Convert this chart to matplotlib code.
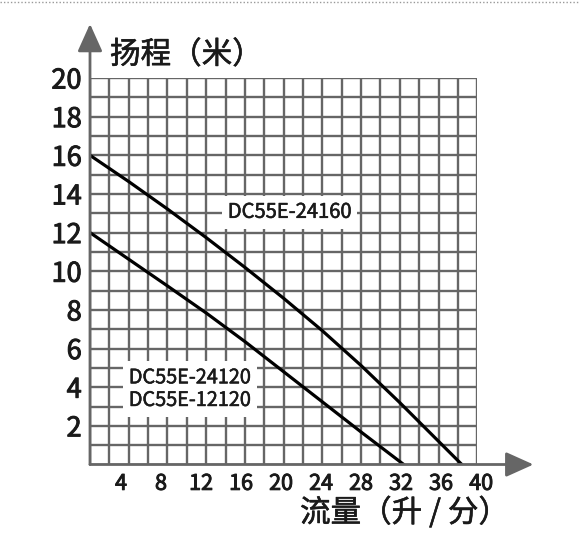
import matplotlib
matplotlib.use("Agg")
import matplotlib.pyplot as plt
from matplotlib.lines import Line2D
import matplotlib.transforms as mtransforms
import matplotlib.patheffects as pe
import numpy as np

plt.rcParams['font.family'] = ['Noto Sans CJK SC', 'DejaVu Sans']

# data
x_upper = [0, 4, 8, 12, 16, 20, 24, 28, 32, 36, 38.4]
y_upper = [16, 14.64, 13.22, 11.74, 10.2, 8.6, 6.92, 5.12, 3.2, 1.2, 0]
x_lower = [0, 4, 8, 12, 16, 20, 24, 28, 32.4]
y_lower = [12, 10.62, 9.24, 7.84, 6.36, 4.8, 3.24, 1.68, 0]
label_upper = "DC55E-24160"
label_lower = "DC55E-24120\nDC55E-12120"
x_ticks = [4, 8, 12, 16, 20, 24, 28, 32, 36, 40]
y_ticks = [2, 4, 6, 8, 10, 12, 14, 16, 18, 20]
x_title = "流量（升 / 分）"
y_title = "扬程（米）"

W, H = 579, 544
fig = plt.figure(figsize=(W / 100, H / 100), dpi=100)
ax = fig.add_axes([90 / W, 79.5 / H, 387.3 / W, 386.5 / H])
ax.set_xlim(0, 40)
ax.set_ylim(0, 20)

txt_c = '#1a1a1a'
heavy = [pe.withStroke(linewidth=0.7, foreground=txt_c)]
grid_c = '#666666'
ax.set_xticks(x_ticks)
ax.set_xticklabels([str(v) for v in x_ticks], fontsize=15.5, color=txt_c)
ax.set_yticks(y_ticks)
ax.set_yticklabels([str(v) for v in y_ticks], fontsize=19.5, color=txt_c)
for lab in ax.get_xticklabels() + ax.get_yticklabels():
    lab.set_path_effects(heavy)
ax.set_xticks(np.arange(0, 41, 2), minor=True)
ax.set_yticks(np.arange(0, 21, 1), minor=True)
ax.tick_params(which='both', length=0)
ax.tick_params(axis='x', pad=6)
ax.tick_params(axis='y', pad=6)
ax.grid(which='minor', color=grid_c, linewidth=1.7)
ax.grid(which='major', color=grid_c, linewidth=1.7)
ax.set_axisbelow(True)
for s in ax.spines.values():
    s.set_visible(False)

# the x tick labels in the reference are spaced slightly wider than the grid
for v, lab in zip(x_ticks, ax.get_xticklabels()):
    dx = (-9 + 0.32 * v) / 100.0
    lab.set_transform(lab.get_transform() +
                      mtransforms.ScaledTranslation(dx, 0, fig.dpi_scale_trans))

ax.plot(x_upper, y_upper, color='black', linewidth=2.3, zorder=3)
ax.plot(x_lower, y_lower, color='black', linewidth=2.3, zorder=3)

light = [pe.withStroke(linewidth=0.4, foreground=txt_c)]
ax.text(20.6, 13.05, label_upper, fontsize=14.5, ha='center', va='center',
        color=txt_c, zorder=4, path_effects=light,
        bbox=dict(boxstyle='square,pad=0.3', fc='white', ec='none'))
ax.text(10.3, 3.9, label_lower, fontsize=14.3, ha='center', va='center',
        color=txt_c, zorder=4, linespacing=1.1, path_effects=light,
        bbox=dict(boxstyle='square,pad=0.3', fc='white', ec='none'))

# axis arrows
ax.annotate('', xy=(0, 22.8), xytext=(0, 0), annotation_clip=False,
            arrowprops=dict(arrowstyle='-|>,head_length=1.0,head_width=0.45',
                            color=grid_c, lw=2, shrinkA=0, shrinkB=0,
                            mutation_scale=17))
ax.annotate('', xy=(45.8, 0), xytext=(0, 0), annotation_clip=False,
            arrowprops=dict(arrowstyle='-|>,head_length=1.0,head_width=0.45',
                            color=grid_c, lw=2, shrinkA=0, shrinkB=0,
                            mutation_scale=17))

fig.text(110 / W, 1 - 55 / H, y_title, fontsize=22, ha='left', va='center',
         color=txt_c, path_effects=light)
fig.text(300 / W, 1 - 513 / H, x_title, fontsize=22, ha='left', va='center',
         color=txt_c, path_effects=light)

fig.add_artist(Line2D([0, 1], [1 - 1.5 / H, 1 - 1.5 / H], transform=fig.transFigure,
                      linestyle=(0, (1, 1.5)), color='#999999', linewidth=1))

fig.savefig('out.png', dpi=100)
